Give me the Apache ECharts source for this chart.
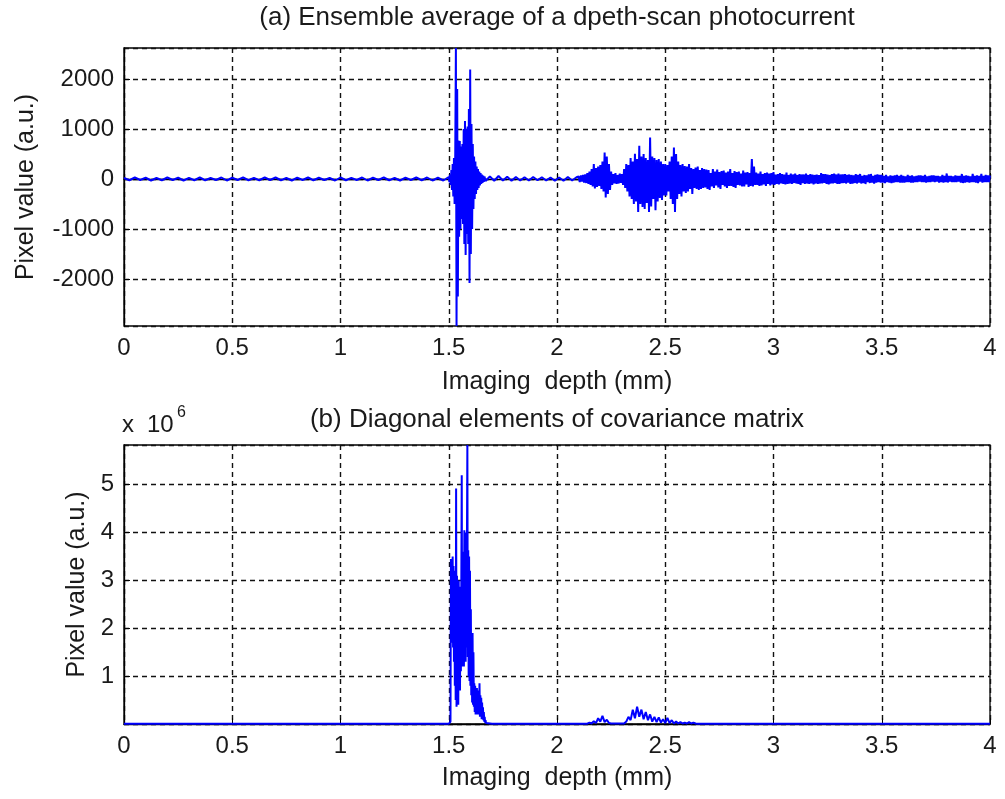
<!DOCTYPE html>
<html><head><meta charset="utf-8">
<script src="https://cdn.jsdelivr.net/npm/echarts@6/dist/echarts.min.js"></script>
<style>html,body{margin:0;padding:0;background:#fff}#c{width:1005px;height:799px}</style>
</head><body><div id="c"></div>
<script>
// ---- tick labels / ranges ----
const xTickStep = 0.5;
const xRange = [0, 4];
const yRangeA = [-2940, 2620];
const yRangeB = [0, 5.83e6];

// ---- (a) ensemble average, read segment by segment (start mm, sample step mm, values) ----
const a1Start = 0, a1Step = 0.025;
const a1Values = [20,-25,30,-20,25,-30,20,-25,30,-20,25,-30,20,-25,30,-25,20,-20,30,-30,
  25,-20,30,-25,20,-25,30,-20,30,-25,20,-30,25,-20,30,-25,25,-20,20,-30,
  30,-25,20,-20,30,-30,25,-20,30,-25,20,-30,25,-20,30,-25,30,-30,25,-30];
const a2Start = 1.5, a2Step = 0.003;
const a2Values = [40,-60,90,-120,180,-220,300,-350,420,-500,
  500,2620,-2940,1800,-2350,770,-1157,760,-1000,650,
  -800,700,-900,1000,-1300,1160,-1520,1000,-1100,1050,
  -1300,1400,-2080,2190,-1500,1100,-1000,700,-600,450,
  -400,350,-300,250,-220,200,-180,150,-130,120,
  -100,90,-80,70,-60,50];
const a3Start = 1.67, a3Step = 0.02;
const a3Values = [-40,50,-35,60,-30,45,-35,40,-30,35,-30,40,-25,35,-30,30,-35,30,-35,40,-30,35];
const a4Start = 2.10, a4Step = 0.005;
const a4Values = [50,-60,70,-50,80,-70,90,-80,120,-100,150,-120,200,-150,300,-190,220,-160,250,-140,
  280,-200,350,-250,530,-370,450,-300,300,-220,150,-120,100,-90,120,-100,80,-90,110,-80,
  100,-120,200,-180,300,-250,280,-350,420,-400,350,-500,505,-450,400,-660,665,-500,450,-560,
  500,-600,420,-480,380,-660,830,-550,450,-400,420,-625,380,-450,400,-380,350,-420,300,-330,
  300,-330,280,-250,350,-400,450,-500,630,-660,500,-400,350,-300,280,-350,300,-250,260,-280,
  250,-250,300,-200,220,-300,200,-180,230,-200,250,-220,180,-200,220,-180,200,-170,190,-200];
const a5Start = 2.70, a5Step = 0.005;
const a5Values = [180,-220,120,-150,200,-180,150,-130,190,-170,140,-200,160,-120,170,-150,130,-180,150,-140,
  200,-140,120,-160,160,-180,140,-120,150,-130,110,-150,170,-150,130,-110,140,-160,120,-140,
  400,-150,250,-120,130,-120,110,-140,150,-130,100,-110,120,-140,130,-100,110,-130,120,-110,
  140,-120,90,-100,100,-110,120,-90,100,-100,90,-110,130,-100,80,-90,110,-100,90,-80,
  110,-90,80,-100,100,-120,90,-80,90,-100,110,-90,80,-100,100,-90,90,-110,80,-90,
  90,-100,80,-90,120,-90,100,-80,100,-100,90,-110,80,-90,100,-90,110,-80,90,-100,
  110,-100,90,-80,90,-80,100,-90,80,-70,90,-100,80,-90,70,-80,100,-90,80,-70];
const a6Start = 3.40, a6Step = 0.005;
const a6Values = [100,-90,60,-80,80,-100,70,-60,90,-80,100,-70,60,-90,80,-70,90,-60,80,-70,
  80,-70,60,-80,80,-60,50,-70,70,-80,60,-70,70,-60,80,-60,60,-70,80,-70,
  60,-70,50,-60,80,-60,60,-70,70,-70,50,-60,60,-60,70,-50,70,-60,60,-60,
  80,-70,50,-60,60,-60,70,-50,70,-60,60,-50,60,-70,50,-60,80,-70,60,-60,
  110,-70,60,-50,60,-60,50,-60,70,-60,60,-50,60,-70,100,-80,60,-70,70,-60,
  60,-70,50,-60,100,-60,60,-70,70,-80,60,-50,100,-70,60,-60,80,-60,70,-60,
  70];

// ---- (b) diagonal of covariance ----
const b1Start = 0, b1Step = 0.1;
const b1Values = [3000,4000,3000,5000,4000,3000,4000,5000,3000,4000,3000,4000,5000,3000,4000];
const b2Start = 1.5, b2Step = 0.002;
const b2Values = [0.005e6,0.006e6,0.01e6,0.02e6,0.05e6,3.45e6,1.7e6,3.4e6,1.75e6,3.5e6,
  1.6e6,3.3e6,1.3e6,3.2e6,0.8e6,3.0e6,0.5e6,4.92e6,0.36e6,3.1e6,
  0.6e6,2.9e6,0.4e6,3.0e6,0.9e6,2.87e6,0.7e6,2.85e6,1.1e6,2.9e6,
  5.2e6,1.2e6,3.0e6,1.4e6,3.6e6,1.2e6,4.05e6,1.5e6,3.9e6,1.3e6,
  4.0e6,1.6e6,3.8e6,5.83e6,1.4e6,3.63e6,1.0e6,3.5e6,0.9e6,3.2e6,
  0.8e6,2.4e6,0.6e6,1.82e6,0.45e6,1.9e6,0.4e6,1.5e6,0.36e6,0.85e6,
  0.25e6,0.8e6,0.2e6,0.7e6,0.3e6,0.75e6,0.2e6,0.65e6,0.25e6,0.7e6,
  0.2e6,0.85e6,0.15e6,0.6e6,0.2e6,0.55e6,0.1e6,0.45e6,0.1e6,0.35e6,
  0.08e6,0.25e6,0.05e6,0.15e6,0.03e6,0.08e6,0.02e6,0.01e6,0.006e6,0.005e6];
const b3Start = 1.70, b3Step = 0.1;
const b3Values = [5000,4000,5000,4000];
const b4Start = 2.10, b4Step = 0.01;
const b4Values = [0.005e6,0.005e6,0.006e6,0.005e6,0.006e6,0.03e6,0.01e6,0.06e6,0.02e6,0.12e6,
  0.05e6,0.17e6,0.04e6,0.09e6,0.02e6,0.01e6,0.008e6,0.01e6,0.008e6,0.01e6,
  0.008e6,0.01e6,0.05e6,0.15e6,0.08e6,0.3e6,0.12e6,0.36e6,0.15e6,0.3e6,
  0.1e6,0.25e6,0.08e6,0.2e6,0.05e6,0.15e6,0.04e6,0.14e6,0.03e6,0.1e6,
  0.02e6,0.13e6,0.02e6,0.08e6,0.01e6,0.05e6,0.01e6,0.04e6,0.01e6,0.03e6,
  0.01e6,0.04e6,0.01e6,0.03e6,0.01e6,0.005e6,0.006e6,0.005e6,0.006e6,0.005e6];
const b5Start = 2.8, b5Step = 0.1;
const b5Values = [5000,4000,5000,4000,5000,4000,5000,4000,5000,4000,5000,4000,5000];

function seg(start, step, vals) {
  return vals.map((v, i) => [+(start + i * step).toFixed(4), v]);
}
const dataA = [].concat(seg(a1Start,a1Step,a1Values), seg(a2Start,a2Step,a2Values),
  seg(a3Start,a3Step,a3Values), seg(a4Start,a4Step,a4Values), seg(a5Start,a5Step,a5Values),
  seg(a6Start,a6Step,a6Values));
const dataB = [].concat(seg(b1Start,b1Step,b1Values), seg(b2Start,b2Step,b2Values),
  seg(b3Start,b3Step,b3Values), seg(b4Start,b4Step,b4Values), seg(b5Start,b5Step,b5Values));

const FONT = 'Liberation Sans';
const TXT = '#1a1a1a';
const grid = (top, h) => ({left:124, right:15, top:top, height:h, show:true,
  borderColor:'#000', borderWidth:1.3, backgroundColor:'#fff', containLabel:false});
const xAx = (gi, gap) => ({gridIndex:gi, type:'value', min:xRange[0], max:xRange[1], interval:xTickStep,
  name:'Imaging  depth (mm)', nameLocation:'middle', nameGap:gap,
  nameTextStyle:{fontFamily:FONT, fontSize:25, color:TXT},
  axisLine:{show:true, lineStyle:{color:'#000', width:1.3}},
  axisTick:{show:true, inside:true, length:6, lineStyle:{color:'#000'}},
  axisLabel:{fontFamily:FONT, fontSize:24, color:TXT, margin:10},
  splitLine:{show:true, lineStyle:{color:'#111', width:1.4, type:[5,4]}}});
const yAx = (gi, range, gap, fmt) => ({gridIndex:gi, type:'value', min:range[0], max:range[1], splitNumber:5,
  name:'Pixel value (a.u.)', nameLocation:'middle', nameGap:gap, nameRotate:90,
  nameTextStyle:{fontFamily:FONT, fontSize:25, color:TXT},
  axisLine:{show:true, lineStyle:{color:'#000', width:1.3}},
  axisTick:{show:true, inside:true, length:6, lineStyle:{color:'#000'}},
  axisLabel:{fontFamily:FONT, fontSize:24, color:TXT, margin:10, showMinLabel:false, showMaxLabel:false, formatter:fmt},
  splitLine:{show:true, lineStyle:{color:'#111', width:1.4, type:[5,4]}}});

const chart = echarts.init(document.getElementById('c'), null, {renderer:'canvas'});
chart.setOption({
  animation:false,
  backgroundColor:'#fff',
  grid:[grid(48, 278), grid(445, 279)],
  xAxis:[xAx(0, 44), xAx(1, 42)],
  yAxis:[yAx(0, yRangeA, 85, v => String(v)), yAx(1, yRangeB, 34, v => String(v/1e6))],
  graphic:[
    {type:'text', x:557, y:18, style:{text:'(a) Ensemble average of a dpeth-scan photocurrent', fontFamily:FONT, fontSize:26, fill:TXT, textAlign:'center', textVerticalAlign:'middle'}},
    {type:'text', x:557, y:420, style:{text:'(b) Diagonal elements of covariance matrix', fontFamily:FONT, fontSize:26, fill:TXT, textAlign:'center', textVerticalAlign:'middle'}},
    {type:'text', x:122, y:425, style:{text:'x', fontFamily:FONT, fontSize:24, fill:TXT, textAlign:'left', textVerticalAlign:'middle'}},
    {type:'text', x:147, y:425, style:{text:'10', fontFamily:FONT, fontSize:24, fill:TXT, textAlign:'left', textVerticalAlign:'middle'}},
    {type:'text', x:177, y:413, style:{text:'6', fontFamily:FONT, fontSize:16, fill:TXT, textAlign:'left', textVerticalAlign:'middle'}}
  ],
  series:[
    {type:'line', xAxisIndex:0, yAxisIndex:0, data:dataA, showSymbol:false, symbol:'none',
     lineStyle:{color:'#0000ff', width:2}, clip:true},
    {type:'line', xAxisIndex:1, yAxisIndex:1, data:dataB, showSymbol:false, symbol:'none',
     lineStyle:{color:'#0000ff', width:2}, clip:true}
  ]
});
</script></body></html>
